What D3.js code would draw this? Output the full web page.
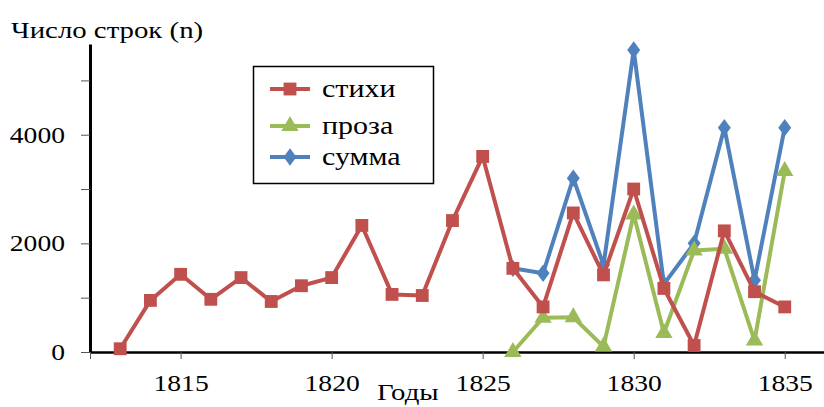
<!DOCTYPE html>
<html>
<head>
<meta charset="utf-8">
<script src="https://cdn.jsdelivr.net/npm/d3@7"></script>
<style>
  body { margin: 0; background: #fff; }
</style>
</head>
<body>
<svg id="chart" width="824" height="407" font-family="'Liberation Serif', 'DejaVu Serif', serif"></svg>
<script>
// years
const yearsVerse = d3.range(1813, 1836);
const yearsProse = d3.range(1826, 1836);
// стихи
const verse = [60, 950, 1430, 970, 1370, 930, 1220, 1370, 2330, 1060, 1040, 2420, 3600,
  1540, 830, 2560, 1420, 3000, 1170, 120, 2230, 1110, 830];
// проза
const prose = [0, 630, 640, 100, 2530, 350, 1870, 1900, 210, 3330];
// сумма
const total = [1540, 1450, 3200, 1600, 5560, 1250, 2000, 4130, 1320, 4130];

const xTicks = [1812, 1815, 1820, 1825, 1830, 1835];
const yTicks = [0, 1000, 2000, 3000, 4000, 5000];
const seriesNames = ['стихи', 'проза', 'сумма'];
const seriesColors = ['#C0504D', '#9BBB59', '#4F81BD'];

const serif = "'Liberation Serif', 'DejaVu Serif', serif";
const stretch = 1.2; // the picture is a bit wider than tall
const svg = d3.select('#chart');

const x = d3.scaleLinear().domain([1812, 1836.3]).range([90, 824]);
const y = d3.scaleLinear().domain([0, 5670]).range([352, 44]);

// axes
const yAxis = svg.append('g')
  .attr('transform', 'translate(' + x(1812) + ',0)')
  .call(d3.axisLeft(y)
    .tickValues(yTicks)
    .tickSize(9)
    .tickSizeOuter(0)
    .tickPadding(16)
    .tickFormat(d => d % 2000 === 0 ? d : ''));
yAxis.attr('font-family', serif);
yAxis.select('.domain').attr('stroke-width', 3);
yAxis.selectAll('.tick line').attr('stroke', '#555');
yAxis.selectAll('text')
  .attr('x', null)
  .attr('transform', 'translate(-25,0) scale(' + stretch + ',1)')
  .attr('font-size', 23)
  .attr('fill', '#000');

const xAxis = svg.append('g')
  .attr('transform', 'translate(0,' + y(0) + ')')
  .call(d3.axisBottom(x)
    .tickValues(xTicks)
    .tickSize(7)
    .tickSizeOuter(0)
    .tickPadding(16)
    .tickFormat(d => d === 1812 ? '' : d));
xAxis.attr('font-family', serif);
xAxis.select('.domain').attr('stroke-width', 2.5);
xAxis.selectAll('.tick line').attr('stroke', '#555');
xAxis.selectAll('text')
  .attr('transform', 'scale(' + stretch + ',1)')
  .attr('font-size', 23)
  .attr('fill', '#000');

// axis titles
svg.append('text')
  .attr('transform', 'translate(11,38) scale(' + stretch + ',1)')
  .attr('font-family', serif)
  .attr('font-size', 24)
  .text('Число строк (n)');
svg.append('text')
  .attr('transform', 'translate(377,400) scale(' + stretch + ',1)')
  .attr('font-family', serif)
  .attr('font-size', 24)
  .text('Годы');

// series
const line = d3.line()
  .x(d => x(d[0]))
  .y(d => y(d[1]));

const symbols = [d3.symbolSquare, d3.symbolTriangle, d3.symbolDiamond];
const symbolSizes = [165, 130, 120];

const series = [
  {name: 'сумма', idx: 2, data: d3.zip(yearsProse, total)},
  {name: 'проза', idx: 1, data: d3.zip(yearsProse, prose)},
  {name: 'стихи', idx: 0, data: d3.zip(yearsVerse, verse)}
];

series.forEach(s => {
  const g = svg.append('g');
  g.append('path')
    .datum(s.data)
    .attr('d', line)
    .attr('fill', 'none')
    .attr('stroke', seriesColors[s.idx])
    .attr('stroke-width', 4)
    .attr('stroke-linejoin', 'round');
  g.selectAll('path.marker')
    .data(s.data)
    .enter()
    .append('path')
    .attr('class', 'marker')
    .attr('transform', d => 'translate(' + x(d[0]) + ',' + y(d[1]) + ')' + (s.idx === 2 ? ' scale(1.1,0.85)' : ''))
    .attr('d', d3.symbol().type(symbols[s.idx]).size(symbolSizes[s.idx]))
    .attr('fill', seriesColors[s.idx]);
});

// legend
const legend = svg.append('g');
legend.append('rect')
  .attr('x', 253.5)
  .attr('y', 66.5)
  .attr('width', 180)
  .attr('height', 117)
  .attr('fill', '#fff')
  .attr('stroke', '#000')
  .attr('stroke-width', 1.5);

const legendY = [89, 126, 157];
seriesNames.forEach((name, i) => {
  const row = legend.append('g').attr('transform', 'translate(0,' + legendY[i] + ')');
  row.append('line')
    .attr('x1', 270).attr('x2', 310)
    .attr('y1', 0).attr('y2', 0)
    .attr('stroke', seriesColors[i])
    .attr('stroke-width', 4);
  row.append('path')
    .attr('transform', 'translate(290,0)' + (i === 2 ? ' scale(1.1,0.85)' : ''))
    .attr('d', d3.symbol().type(symbols[i]).size(symbolSizes[i]))
    .attr('fill', seriesColors[i]);
  row.append('text')
    .attr('transform', 'translate(322,8) scale(' + stretch + ',1)')
    .attr('font-family', serif)
    .attr('font-size', 25)
    .text(name);
});
</script>
</body>
</html>
